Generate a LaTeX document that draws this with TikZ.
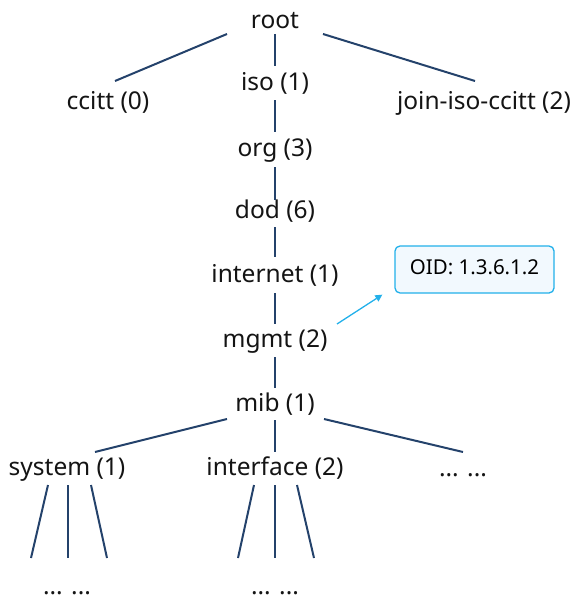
\documentclass[tikz,border=0pt]{standalone}
\usepackage{fontspec}
\setmainfont{Noto Sans}
\usetikzlibrary{calc,arrows.meta}
\definecolor{treeline}{HTML}{24426B}
\definecolor{oidblue}{HTML}{22B0EA}
\definecolor{oidfill}{HTML}{F2F9FE}
\begin{document}
\begin{tikzpicture}[x=1pt,y=-1pt,
  lbl/.style={inner sep=0pt,text height=18.5pt,text depth=6.3pt,font=\fontsize{24.5}{28}\selectfont,text=black!92},
  tl/.style={draw=treeline,line width=2pt},
  oidbox/.style={draw=oidblue,fill=oidfill,line width=1.3pt,rounded corners=5pt,minimum width=159pt,minimum height=47pt,inner sep=0pt,text height=15pt,text depth=5pt,font=\fontsize{20.5}{24}\selectfont},
  oidarrow/.style={draw=oidblue,line width=1.3pt,-{Triangle[length=7pt,width=7pt]}}]
\useasboundingbox (0,0) rectangle (576,602);
\node[lbl] (root) at (275,22.5) {root};
\node[lbl] (ccitt) at (108,103) {ccitt (0)};
\node[lbl] (iso) at (275,84) {iso (1)};
\node[lbl] (join) at (484,103) {join-iso-ccitt (2)};
\node[lbl] (org) at (275,150) {org (3)};
\node[lbl] (dod) at (275,212) {dod (6)};
\node[lbl] (internet) at (275,276) {internet (1)};
\node[lbl] (mgmt) at (275,341) {mgmt (2)};
\node[lbl] (mib) at (275,405) {mib (1)};
\node[lbl] (system) at (67,469) {system (1)};
\node[lbl] (interface) at (275,469) {interface (2)};
\node[lbl] (more) at (463,470) {... ...};
\node[lbl] (sysmore) at (67,588) {... ...};
\node[lbl] (ifmore) at (275,588) {... ...};
\node[oidbox] (oid) at (474.5,269.5) {OID: 1.3.6.1.2};
% tree connectors
\draw[tl] ($(root)+(-48,11.5)$) -- ($(ccitt)+(7,-22)$);
\draw[tl] ($(root)+(0,11.5)$) -- ($(iso)+(0,-18)$);
\draw[tl] ($(root)+(48,11.5)$) -- ($(join)+(-9,-22)$);
\draw[tl] ($(iso)+(0,16)$) -- ($(org)+(0,-18)$);
\draw[tl] ($(org)+(0,17)$) -- ($(dod)+(0,-12)$);
\draw[tl] ($(dod)+(0,15)$) -- ($(internet)+(0,-19)$);
\draw[tl] ($(internet)+(0,17)$) -- ($(mgmt)+(0,-17)$);
\draw[tl] ($(mgmt)+(0,16)$) -- ($(mib)+(0,-17)$);
\draw[tl] ($(mib)+(-48,14)$) -- ($(system)+(28,-17)$);
\draw[tl] ($(mib)+(0,15)$) -- ($(interface)+(0,-17)$);
\draw[tl] ($(mib)+(49,14)$) -- ($(more)+(0,-18)$);
\draw[tl] ($(system)+(-19,16)$) -- ($(sysmore)+(-36,-30)$);
\draw[tl] ($(system)+(1,16)$) -- ($(sysmore)+(1,-30)$);
\draw[tl] ($(system)+(24,16)$) -- ($(sysmore)+(40,-30)$);
\draw[tl] ($(interface)+(-21,16)$) -- ($(ifmore)+(-37,-30)$);
\draw[tl] ($(interface)+(0,16)$) -- ($(ifmore)+(0,-30)$);
\draw[tl] ($(interface)+(22,16)$) -- ($(ifmore)+(39,-30)$);
% annotation arrow
\draw[oidarrow] ($(mgmt)+(62,-17)$) -- ($(oid.south west)+(-12,1)$);
\end{tikzpicture}
\end{document}
